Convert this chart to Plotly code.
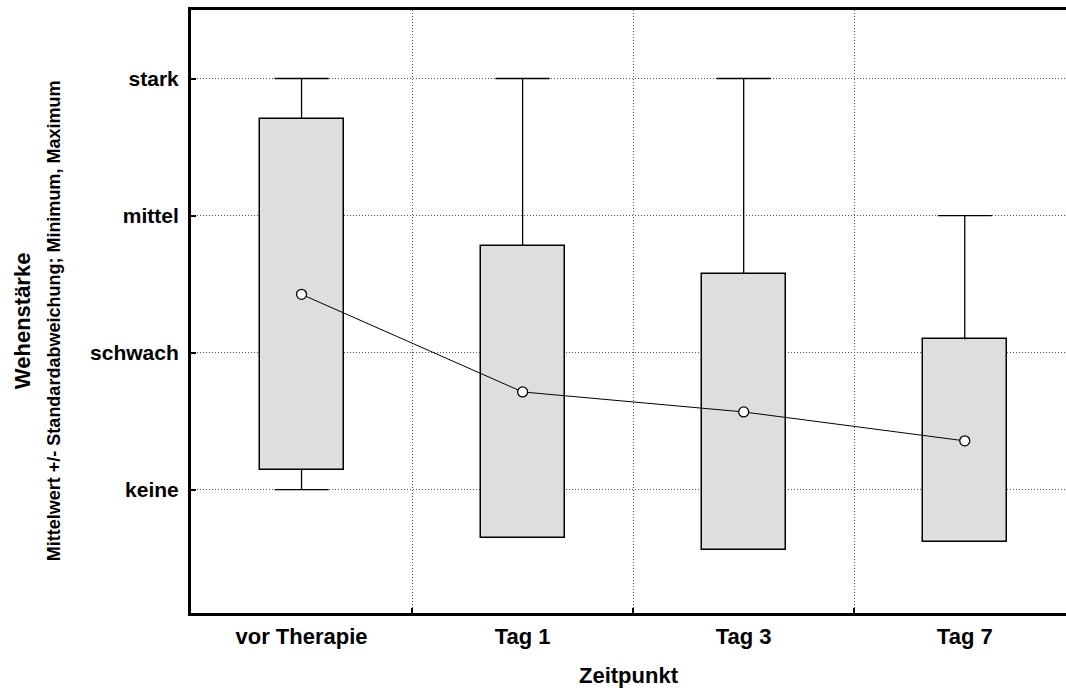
import plotly.graph_objects as go

categories = ["vor Therapie", "Tag 1", "Tag 3", "Tag 7"]
mean_vals = [1.425, 0.713, 0.567, 0.356]
sd_vals = [1.28, 1.065, 1.01, 0.74]
min_vals = [0, 0, 0, 0]
max_vals = [3, 3, 3, 2]
y_tick_vals = [0, 1, 2, 3]
y_tick_text = ["keine", "schwach", "mittel", "stark"]

xs = list(range(len(categories)))
box_w = 0.38
cap_w = 0.245
FONT = "Liberation Sans, Arial, sans-serif"
GRID = "#555"
DASH = "1px,2px"

fig = go.Figure()

# boxes: mean +/- SD
fig.add_trace(go.Bar(
    x=xs,
    base=[m - s for m, s in zip(mean_vals, sd_vals)],
    y=[2 * s for s in sd_vals],
    width=box_w,
    marker=dict(color="#dedede", line=dict(color="black", width=1.5)),
    hoverinfo="skip",
    showlegend=False,
))

# whiskers to min / max
wx, wy = [], []
for x, m, s, lo, hi in zip(xs, mean_vals, sd_vals, min_vals, max_vals):
    top = m + s
    bot = m - s
    if hi > top:
        wx += [x, x, None, x - cap_w / 2, x + cap_w / 2, None]
        wy += [top, hi, None, hi, hi, None]
    if lo < bot:
        wx += [x, x, None, x - cap_w / 2, x + cap_w / 2, None]
        wy += [bot, lo, None, lo, lo, None]
fig.add_trace(go.Scatter(
    x=wx, y=wy, mode="lines",
    line=dict(color="black", width=1.3),
    hoverinfo="skip", showlegend=False,
))

# mean line
fig.add_trace(go.Scatter(
    x=xs, y=mean_vals, mode="lines+markers",
    line=dict(color="black", width=1),
    marker=dict(symbol="circle", size=10, color="white",
                line=dict(color="black", width=1.3)),
    showlegend=False,
))

fig.update_layout(
    width=1066, height=693,
    margin=dict(l=191, r=0, t=10, b=80),
    plot_bgcolor="white", paper_bgcolor="white",
    font=dict(family=FONT, color="black"),
    bargap=0,
    xaxis=dict(
        range=[-0.5, 3.458],
        tickvals=xs, ticktext=categories,
        tickfont=dict(size=22, family=FONT, weight="bold"),
        showgrid=False, zeroline=False,
        showline=True, linecolor="black", linewidth=3, mirror=True,
        ticks="", ticklabelstandoff=2,
        minor=dict(tickvals=[0.5, 1.5, 2.5], showgrid=True,
                   griddash=DASH, gridcolor=GRID, gridwidth=1,
                   ticks="inside", ticklen=5, tickcolor="black", tickwidth=2),
        title=dict(text="<b>Zeitpunkt</b>", font=dict(size=22, family=FONT),
                   standoff=20),
    ),
    yaxis=dict(
        range=[-0.9, 3.5],
        tickvals=y_tick_vals, ticktext=y_tick_text,
        tickfont=dict(size=21, family=FONT, weight="bold"),
        showgrid=True, griddash=DASH, gridcolor=GRID, gridwidth=1,
        zeroline=False,
        showline=True, linecolor="black", linewidth=3,
        ticks="inside", ticklen=5, tickcolor="black", tickwidth=2,
        ticklabelstandoff=5,
    ),
    annotations=[
        dict(text="<b>Wehenstärke</b>", xref="paper", yref="paper",
             x=(22 - 191) / 875, y=0.484, xanchor="center", yanchor="middle",
             textangle=-90, showarrow=False, font=dict(size=22, family=FONT)),
        dict(text="<b>Mittelwert +/- Standardabweichung; Minimum, Maximum</b>",
             xref="paper", yref="paper",
             x=(54 - 191) / 875, y=0.484, xanchor="center", yanchor="middle",
             textangle=-90, showarrow=False, font=dict(size=18, family=FONT)),
    ],
)

fig.write_html("out.html")
